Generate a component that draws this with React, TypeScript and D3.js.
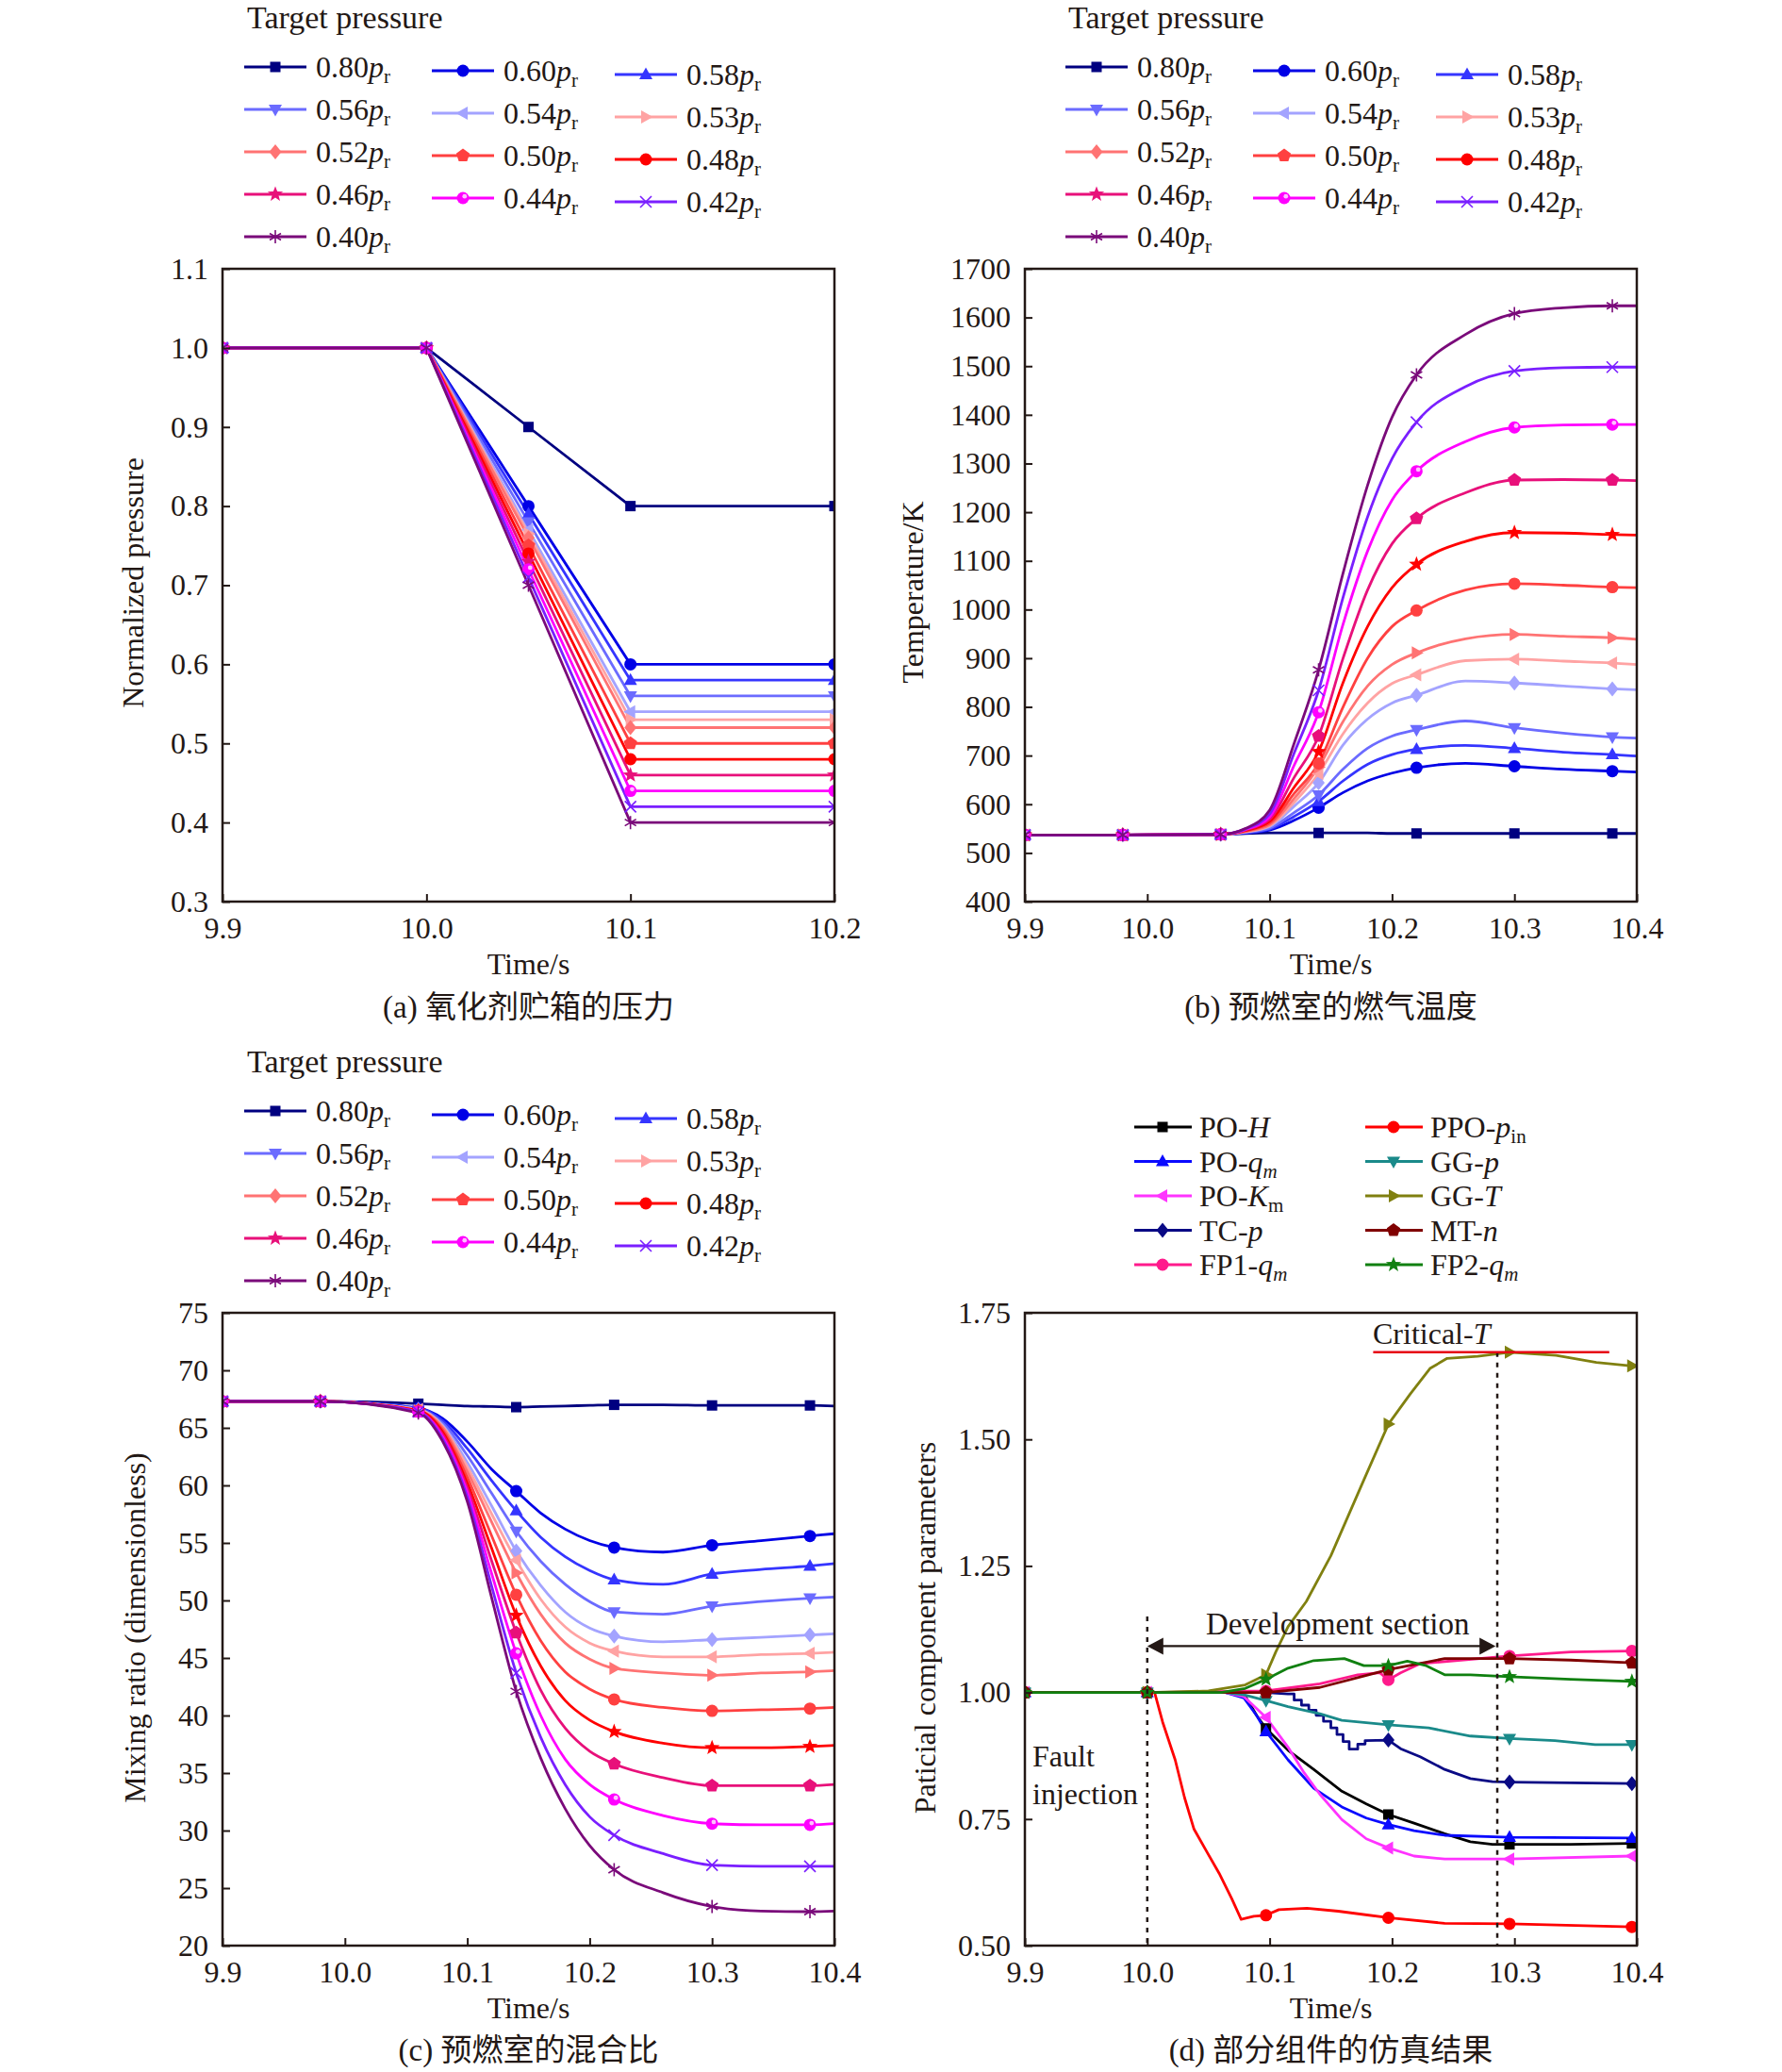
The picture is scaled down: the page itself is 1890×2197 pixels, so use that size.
import React, { useEffect, useRef } from "react";
import * as d3 from "d3";

const FONT = "'Liberation Serif', 'Times New Roman', 'Noto Sans CJK SC', serif";
const INK = "#231815";

// ---------- target pressure series (panels a, b, c)
const targetLabels = ["0.80", "0.60", "0.58", "0.56", "0.54", "0.53", "0.52", "0.50", "0.48", "0.46", "0.44", "0.42", "0.40"];
const targetColors = ["#000080", "#0000e6", "#3535ff", "#6b6bff", "#a3a3ff", "#ffa3a3", "#ff7373", "#ff4040", "#ff0000", "#e8107a", "#ff00ff", "#7a1fff", "#7a0a7a"];
const legendMarkers = ["square", "circle", "triUp", "triDown", "triLeft", "triRight", "diamond", "pentagon", "dot", "star", "sphere", "x", "asterisk"];
const curveMarkersBC = ["square", "circle", "triUp", "triDown", "diamond", "triLeft", "triRight", "dot", "star", "pentagon", "sphere", "x", "asterisk"];

// (a) normalized pressure of the oxidizer tank
const timeA = [9.9, 10.0, 10.05, 10.1, 10.2];
const pressureA = [
  [1, 1, 0.9, 0.8, 0.8],
  [1, 1, 0.8, 0.6, 0.6],
  [1, 1, 0.79, 0.58, 0.58],
  [1, 1, 0.78, 0.56, 0.56],
  [1, 1, 0.77, 0.54, 0.54],
  [1, 1, 0.765, 0.53, 0.53],
  [1, 1, 0.76, 0.52, 0.52],
  [1, 1, 0.75, 0.5, 0.5],
  [1, 1, 0.74, 0.48, 0.48],
  [1, 1, 0.73, 0.46, 0.46],
  [1, 1, 0.72, 0.44, 0.44],
  [1, 1, 0.71, 0.42, 0.42],
  [1, 1, 0.7, 0.4, 0.4],
];

// (b) and (c) share one time grid
const timeBC = [9.9, 9.98, 10.06, 10.08, 10.1, 10.12, 10.14, 10.16, 10.18, 10.2, 10.22, 10.26, 10.3, 10.34, 10.38, 10.4];
const markTimesBC = [9.9, 9.98, 10.06, 10.14, 10.22, 10.3, 10.38];

const temperatureB = [
  [537, 537, 538, 540, 541, 541, 541, 541, 541, 540, 540, 540, 540, 540, 540, 540],
  [537, 537, 538, 541, 547, 567, 593, 624, 648, 664, 675, 684, 678, 672, 668, 666],
  [537, 537, 538, 541, 549, 575, 606, 648, 682, 702, 713, 721, 715, 707, 702, 699],
  [537, 537, 538, 542, 551, 583, 619, 672, 715, 740, 753, 771, 757, 746, 738, 736],
  [537, 537, 538, 543, 554, 596, 644, 722, 775, 808, 824, 853, 849, 843, 837, 835],
  [537, 537, 538, 543, 556, 604, 663, 745, 808, 848, 866, 895, 898, 894, 890, 887],
  [537, 537, 538, 544, 558, 612, 676, 770, 843, 887, 911, 940, 949, 945, 942, 939],
  [537, 537, 538, 545, 561, 622, 684, 800, 900, 965, 998, 1040, 1053, 1050, 1046, 1045],
  [537, 537, 538, 546, 565, 635, 708, 850, 965, 1045, 1093, 1140, 1158, 1157, 1154, 1153],
  [537, 537, 538, 547, 569, 655, 740, 900, 1040, 1135, 1187, 1240, 1266, 1267, 1266, 1265],
  [537, 537, 538, 548, 574, 680, 789, 970, 1120, 1225, 1284, 1345, 1374, 1379, 1380, 1380],
  [537, 537, 538, 549, 580, 705, 834, 1025, 1190, 1310, 1385, 1458, 1490, 1497, 1498, 1498],
  [537, 537, 538, 550, 588, 725, 876, 1075, 1255, 1395, 1482, 1565, 1608, 1620, 1624, 1624],
];

const mixingC = [
  [67.3, 67.3, 67.1, 67.0, 66.9, 66.85, 66.8, 66.85, 66.9, 66.95, 67.0, 67.0, 66.95, 66.95, 66.95, 66.9],
  [67.3, 67.3, 66.7, 65.8, 63.8, 61.4, 59.5, 57.6, 56.2, 55.2, 54.6, 54.2, 54.8, 55.2, 55.6, 55.8],
  [67.3, 67.3, 66.7, 65.6, 63.2, 60.4, 57.8, 55.5, 53.8, 52.6, 51.8, 51.4, 52.3, 52.7, 53.0, 53.2],
  [67.3, 67.3, 66.6, 65.4, 62.6, 59.3, 56.0, 53.4, 51.4, 49.9, 49.0, 48.8, 49.5, 49.9, 50.2, 50.3],
  [67.3, 67.3, 66.6, 65.2, 62.0, 58.2, 54.3, 51.3, 49.0, 47.6, 46.9, 46.4, 46.6, 46.8, 47.0, 47.1],
  [67.3, 67.3, 66.6, 65.1, 61.6, 57.5, 53.5, 50.1, 47.7, 46.3, 45.6, 45.1, 45.1, 45.3, 45.4, 45.5],
  [67.3, 67.3, 66.5, 65.0, 61.2, 56.8, 52.4, 48.8, 46.3, 44.9, 44.1, 43.7, 43.5, 43.7, 43.8, 43.9],
  [67.3, 67.3, 66.5, 64.8, 60.7, 55.6, 50.5, 46.5, 43.8, 42.3, 41.4, 40.7, 40.4, 40.5, 40.6, 40.7],
  [67.3, 67.3, 66.5, 64.6, 60.2, 54.5, 48.7, 44.3, 41.3, 39.6, 38.6, 37.6, 37.2, 37.2, 37.3, 37.4],
  [67.3, 67.3, 66.4, 64.4, 59.8, 53.4, 47.2, 42.2, 38.9, 36.9, 35.8, 34.6, 33.9, 33.9, 33.9, 34.0],
  [67.3, 67.3, 66.4, 64.2, 59.4, 52.3, 45.4, 40.0, 36.2, 34.0, 32.7, 31.3, 30.6, 30.5, 30.5, 30.6],
  [67.3, 67.3, 66.4, 64.0, 59.0, 51.2, 43.7, 38.1, 34.0, 31.2, 29.6, 28.0, 27.0, 26.9, 26.9, 26.9],
  [67.3, 67.3, 66.3, 63.8, 58.6, 50.2, 42.1, 36.3, 31.9, 28.7, 26.6, 24.6, 23.4, 23.0, 22.95, 23.0],
];

// ---------- (d) component parameters
const markTimesD = [9.9, 10.0, 10.097, 10.197, 10.296, 10.396];

const poH = [[9.9, 1], [10.0, 1], [10.064, 1], [10.079, 0.997], [10.0895, 0.954], [10.097, 0.929], [10.115, 0.886], [10.136, 0.848], [10.159, 0.805], [10.179, 0.78], [10.197, 0.759], [10.218, 0.742], [10.243, 0.721], [10.264, 0.705], [10.282, 0.7], [10.296, 0.7], [10.346, 0.7], [10.396, 0.702], [10.4, 0.702]];
const poQm = [[9.9, 1], [10.0, 1], [10.064, 1], [10.079, 0.989], [10.0895, 0.954], [10.097, 0.923], [10.115, 0.867], [10.136, 0.811], [10.159, 0.774], [10.179, 0.752], [10.197, 0.739], [10.218, 0.727], [10.243, 0.718], [10.296, 0.714], [10.396, 0.7125], [10.4, 0.7125]];
const poKm = [[9.9, 1], [10.0, 1], [10.064, 1], [10.079, 0.992], [10.097, 0.951], [10.115, 0.892], [10.128, 0.842], [10.141, 0.799], [10.159, 0.749], [10.179, 0.711], [10.197, 0.693], [10.218, 0.677], [10.243, 0.671], [10.296, 0.671], [10.396, 0.677], [10.4, 0.677]];
const tcP = [[9.9, 1], [10.0, 1], [10.097, 1], [10.115, 0.997], [10.12, 0.997], [10.12, 0.985], [10.126, 0.985], [10.126, 0.975], [10.132, 0.975], [10.132, 0.965], [10.138, 0.965], [10.138, 0.955], [10.144, 0.955], [10.144, 0.943], [10.15, 0.943], [10.15, 0.93], [10.155, 0.93], [10.155, 0.917], [10.16, 0.917], [10.16, 0.903], [10.165, 0.903], [10.165, 0.888], [10.172, 0.888], [10.172, 0.898], [10.178, 0.898], [10.178, 0.905], [10.197, 0.906], [10.207, 0.889], [10.223, 0.873], [10.243, 0.848], [10.264, 0.83], [10.282, 0.824], [10.296, 0.823], [10.396, 0.82], [10.4, 0.82]];
const fp1Qm = [[9.9, 1], [10.0, 1], [10.097, 1.003], [10.141, 1.017], [10.172, 1.035], [10.19, 1.039], [10.197, 1.025], [10.207, 1.039], [10.223, 1.057], [10.296, 1.072], [10.346, 1.08], [10.396, 1.082], [10.4, 1.082]];
const ppoPin = [[9.9, 1], [10.0, 1], [10.006, 1.0], [10.0125, 0.942], [10.0228, 0.867], [10.0305, 0.792], [10.0382, 0.73], [10.0485, 0.686], [10.0587, 0.643], [10.069, 0.593], [10.0767, 0.552], [10.087, 0.558], [10.097, 0.56], [10.1075, 0.571], [10.1305, 0.574], [10.156, 0.568], [10.197, 0.555], [10.243, 0.544], [10.296, 0.543], [10.396, 0.537], [10.4, 0.537]];
const ggP = [[9.9, 1], [10.0, 1], [10.064, 1], [10.08, 0.995], [10.097, 0.984], [10.115, 0.972], [10.141, 0.958], [10.159, 0.945], [10.197, 0.936], [10.23, 0.93], [10.264, 0.914], [10.296, 0.909], [10.333, 0.905], [10.366, 0.897], [10.396, 0.897], [10.4, 0.897]];
const ggT = [[9.9, 1], [10.0, 1], [10.05, 1.003], [10.08, 1.015], [10.097, 1.035], [10.105, 1.08], [10.115, 1.13], [10.13, 1.18], [10.15, 1.27], [10.177, 1.42], [10.197, 1.53], [10.215, 1.59], [10.231, 1.64], [10.245, 1.66], [10.27, 1.664], [10.296, 1.672], [10.334, 1.666], [10.367, 1.652], [10.396, 1.645], [10.4, 1.645]];
const mtN = [[9.9, 1], [10.0, 1], [10.097, 1.0], [10.141, 1.01], [10.197, 1.045], [10.243, 1.067], [10.296, 1.067], [10.346, 1.064], [10.396, 1.0585], [10.4, 1.058]];
const fp2Qm = [[9.9, 1], [10.0, 1], [10.06, 1.0], [10.08, 1.008], [10.097, 1.026], [10.115, 1.048], [10.136, 1.063], [10.161, 1.067], [10.177, 1.053], [10.197, 1.053], [10.2125, 1.062], [10.228, 1.053], [10.243, 1.035], [10.264, 1.035], [10.296, 1.031], [10.346, 1.026], [10.396, 1.022], [10.4, 1.022]];

const seriesD = [poH, poQm, poKm, tcP, fp1Qm, ppoPin, ggP, ggT, mtN, fp2Qm];
const colorsD = ["#000000", "#0a0aff", "#ff33ff", "#0a0a85", "#ff1a8c", "#ff0000", "#1a8a8a", "#808010", "#800000", "#108010"];
const markersD = ["square", "triUp", "triLeft", "diamond", "dot", "dot", "triDown", "triRight", "pentagon", "star"];
// label parts: [text, italic, subscript]
const labelsD = [
  [["PO-", false, false], ["H", true, false]],
  [["PO-", false, false], ["q", true, false], ["m", true, true]],
  [["PO-", false, false], ["K", true, false], ["m", false, true]],
  [["TC-", false, false], ["p", true, false]],
  [["FP1-", false, false], ["q", true, false], ["m", true, true]],
  [["PPO-", false, false], ["p", true, false], ["in", false, true]],
  [["GG-", false, false], ["p", true, false]],
  [["GG-", false, false], ["T", true, false]],
  [["MT-", false, false], ["n", true, false]],
  [["FP2-", false, false], ["q", true, false], ["m", true, true]],
];

// annotation values for (d)
const faultTime = 10.0;
const faultLineTop = 1.15;
const criticalTime = 10.286;
const criticalT = 1.672;
const criticalSpan = [10.1846, 10.3775];
const devArrow = { from: 10.0, to: 10.2846, level: 1.0916 };

// axis ticks
const ticksX3 = [9.9, 10.0, 10.1, 10.2];
const ticksX5 = [9.9, 10.0, 10.1, 10.2, 10.3, 10.4];
const ticksYA = [0.3, 0.4, 0.5, 0.6, 0.7, 0.8, 0.9, 1.0, 1.1];
const ticksYB = [400, 500, 600, 700, 800, 900, 1000, 1100, 1200, 1300, 1400, 1500, 1600, 1700];
const ticksYC = [20, 25, 30, 35, 40, 45, 50, 55, 60, 65, 70, 75];
const ticksYD = [0.5, 0.75, 1.0, 1.25, 1.5, 1.75];

type Pt = [number, number];

function Marker({ kind, cx, cy, color }: { kind: string; cx: number; cy: number; color: string }) {
  const poly = (pts: Pt[]) => <polygon points={pts.map((p) => `${cx + p[0]},${cy + p[1]}`).join(" ")} fill={color} />;
  switch (kind) {
    case "square":
      return <rect x={cx - 5.5} y={cy - 5.5} width={11} height={11} fill={color} />;
    case "circle":
    case "dot":
      return <circle cx={cx} cy={cy} r={6.5} fill={color} />;
    case "sphere":
      return (
        <g>
          <circle cx={cx} cy={cy} r={6.5} fill={color} />
          <circle cx={cx + 1.8} cy={cy - 1.8} r={2.4} fill="#fff" opacity={0.75} />
        </g>
      );
    case "triUp":
      return poly([[0, -7.5], [7, 5], [-7, 5]]);
    case "triDown":
      return poly([[0, 7.5], [7, -5], [-7, -5]]);
    case "triLeft":
      return poly([[-7.5, 0], [5, -7], [5, 7]]);
    case "triRight":
      return poly([[7.5, 0], [-5, -7], [-5, 7]]);
    case "diamond":
      return poly([[0, -8], [6.5, 0], [0, 8], [-6.5, 0]]);
    case "pentagon":
      return poly(d3.range(5).map((i) => [7.5 * Math.sin((i * 2 * Math.PI) / 5), -7.5 * Math.cos((i * 2 * Math.PI) / 5)] as Pt));
    case "star":
      return poly(
        d3.range(10).map((i) => {
          const r = i % 2 === 0 ? 8.5 : 3.6;
          const a = (i * Math.PI) / 5;
          return [r * Math.sin(a), -r * Math.cos(a)] as Pt;
        })
      );
    case "x":
      return (
        <path d={`M${cx - 6},${cy - 6}L${cx + 6},${cy + 6}M${cx - 6},${cy + 6}L${cx + 6},${cy - 6}`} stroke={color} strokeWidth={1.6} fill="none" />
      );
    case "asterisk":
      return (
        <path
          d={`M${cx},${cy - 7}L${cx},${cy + 7}M${cx - 6},${cy - 3.5}L${cx + 6},${cy + 3.5}M${cx - 6},${cy + 3.5}L${cx + 6},${cy - 3.5}`}
          stroke={color}
          strokeWidth={1.6}
          fill="none"
        />
      );
    default:
      return null;
  }
}

function Axis({ scale, orient, ticks, fmt, transform }: any) {
  const ref = useRef<SVGGElement>(null);
  useEffect(() => {
    if (!ref.current) return;
    const axis = (orient === "bottom" ? d3.axisBottom(scale) : d3.axisLeft(scale))
      .tickValues(ticks)
      .tickFormat(d3.format(fmt))
      .tickSizeInner(-8)
      .tickSizeOuter(0)
      .tickPadding(orient === "bottom" ? 16 : 15);
    const g = d3.select(ref.current);
    g.selectAll("*").remove();
    g.call(axis as any);
    g.select(".domain").remove();
    g.attr("font-family", FONT).attr("font-size", 32);
    g.selectAll("line").attr("stroke", INK).attr("stroke-width", 2);
    g.selectAll("text").attr("fill", INK);
  }, [scale, orient, ticks, fmt]);
  return <g ref={ref} transform={transform} />;
}

interface Series {
  color: string;
  marker: string;
  pts: Pt[];
  marks: Pt[];
}

interface PanelProps {
  id: string;
  box: { left: number; top: number; right: number; bottom: number };
  xDomain: [number, number];
  yDomain: [number, number];
  xTicks: number[];
  yTicks: number[];
  yFmt: string;
  series: Series[];
  curve: d3.CurveFactory;
  yLabel: string;
  yLabelPos: [number, number];
  timeY: number;
  caption: string;
  captionY: number;
  extra?: (x: d3.ScaleLinear<number, number>, y: d3.ScaleLinear<number, number>) => React.ReactNode;
}

function Panel(p: PanelProps) {
  const { box } = p;
  const x = d3.scaleLinear().domain(p.xDomain).range([box.left, box.right]);
  const y = d3.scaleLinear().domain(p.yDomain).range([box.bottom, box.top]);
  const line = d3
    .line<Pt>()
    .x((d) => x(d[0]))
    .y((d) => y(d[1]))
    .curve(p.curve);
  const cx = (box.left + box.right) / 2;
  return (
    <g>
      <defs>
        <clipPath id={`clip-${p.id}`}>
          <rect x={box.left} y={box.top} width={box.right - box.left} height={box.bottom - box.top} />
        </clipPath>
      </defs>
      <g clipPath={`url(#clip-${p.id})`}>
        {p.series.map((s, i) => (
          <path key={`l${i}`} d={line(s.pts) || ""} fill="none" stroke={s.color} strokeWidth={2.8} strokeLinejoin="round" />
        ))}
        {p.series.map((s, i) => (
          <g key={`m${i}`}>
            {s.marks.map((m, j) => (
              <Marker key={j} kind={s.marker} cx={x(m[0])} cy={y(m[1])} color={s.color} />
            ))}
          </g>
        ))}
        {p.extra && p.extra(x, y)}
      </g>
      <Axis scale={x} orient="bottom" ticks={p.xTicks} fmt=".1f" transform={`translate(0,${box.bottom})`} />
      <Axis scale={y} orient="left" ticks={p.yTicks} fmt={p.yFmt} transform={`translate(${box.left},0)`} />
      <rect x={box.left} y={box.top} width={box.right - box.left} height={box.bottom - box.top} fill="none" stroke={INK} strokeWidth={2.5} />
      <text
        transform={`translate(${p.yLabelPos[0]},${p.yLabelPos[1]}) rotate(-90)`}
        textAnchor="middle"
        dy="0.35em"
        fontSize={32}
        fill={INK}
      >
        {p.yLabel}
      </text>
      <text x={cx} y={p.timeY} textAnchor="middle" fontSize={32} fill={INK}>
        Time/s
      </text>
      <text x={cx} y={p.captionY} textAnchor="middle" fontSize={33} fill={INK}>
        {p.caption}
      </text>
    </g>
  );
}

function TargetLegend({ x0, y0 }: { x0: number; y0: number }) {
  const colX = [x0 - 3, x0 + 196, x0 + 390];
  return (
    <g>
      <text x={x0} y={y0} fontSize={34} fill={INK}>
        Target pressure
      </text>
      {targetLabels.map((lab, i) => {
        const row = Math.floor(i / 3);
        const col = i % 3;
        const lx = colX[col];
        const ly = y0 + 41 + row * 45 + col * 4;
        return (
          <g key={lab}>
            <line x1={lx} x2={lx + 66} y1={ly} y2={ly} stroke={targetColors[i]} strokeWidth={2.8} />
            <Marker kind={legendMarkers[i]} cx={lx + 33} cy={ly} color={targetColors[i]} />
            <text x={lx + 76} y={ly + 11} fontSize={32} fill={INK}>
              {lab}
              <tspan fontStyle="italic">p</tspan>
              <tspan fontSize={21} dy={6}>
                r
              </tspan>
            </text>
          </g>
        );
      })}
    </g>
  );
}

function ComponentLegend() {
  const colX = [1203, 1448];
  return (
    <g>
      {labelsD.map((parts, i) => {
        const col = Math.floor(i / 5);
        const row = i % 5;
        const lx = colX[col];
        const ly = 1195 + row * 36.5;
        let sub = false;
        return (
          <g key={i}>
            <line x1={lx} x2={lx + 61} y1={ly} y2={ly} stroke={colorsD[i]} strokeWidth={2.8} />
            <Marker kind={markersD[i]} cx={lx + 30} cy={ly} color={colorsD[i]} />
            <text x={lx + 69} y={ly + 11} fontSize={32} fill={INK}>
              {parts.map((pt: any, k: number) => {
                const el = (
                  <tspan key={k} fontStyle={pt[1] ? "italic" : "normal"} fontSize={pt[2] ? 21 : 32} dy={pt[2] && !sub ? 6 : 0}>
                    {pt[0]}
                  </tspan>
                );
                if (pt[2]) sub = true;
                return el;
              })}
            </text>
          </g>
        );
      })}
    </g>
  );
}

const near = (a: number, b: number) => Math.abs(a - b) < 1e-9;

function gridSeries(times: number[], rows: number[][], markTimes: number[], markers: string[]): Series[] {
  return rows.map((vals, i) => {
    const pts = times.map((t, k) => [t, vals[k]] as Pt);
    return {
      color: targetColors[i],
      marker: markers[i],
      pts,
      marks: pts.filter((pt) => markTimes.some((m) => near(m, pt[0]))),
    };
  });
}

export default function App() {
  const boxA = { left: 236, top: 285, right: 885, bottom: 956 };
  const boxB = { left: 1087, top: 285, right: 1736, bottom: 956 };
  const boxC = { left: 236, top: 1392, right: 885, bottom: 2063 };
  const boxD = { left: 1087, top: 1392, right: 1736, bottom: 2063 };

  const seriesA = gridSeries(timeA, pressureA, timeA, legendMarkers);
  const seriesB = gridSeries(timeBC, temperatureB, markTimesBC, curveMarkersBC);
  const seriesC = gridSeries(timeBC, mixingC, markTimesBC, curveMarkersBC);
  const seriesDd: Series[] = seriesD.map((pts, i) => ({
    color: colorsD[i],
    marker: markersD[i],
    pts: pts as Pt[],
    marks: (pts as Pt[]).filter((pt) => markTimesD.some((m) => near(m, pt[0]))),
  }));

  const extraD = (x: d3.ScaleLinear<number, number>, y: d3.ScaleLinear<number, number>) => {
    const ay = y(devArrow.level);
    const x1 = x(devArrow.from);
    const x2 = x(devArrow.to);
    return (
      <g>
        <line x1={x(faultTime)} x2={x(faultTime)} y1={y(faultLineTop)} y2={y(0.5)} stroke={INK} strokeWidth={2.5} strokeDasharray="5,6" />
        <line x1={x(criticalTime)} x2={x(criticalTime)} y1={y(criticalT)} y2={y(0.5)} stroke={INK} strokeWidth={2.5} strokeDasharray="5,6" />
        <line x1={x(criticalSpan[0])} x2={x(criticalSpan[1])} y1={y(criticalT)} y2={y(criticalT)} stroke="#e60012" strokeWidth={2.5} />
        <line x1={x1 + 10} x2={x2 - 10} y1={ay} y2={ay} stroke={INK} strokeWidth={2.2} />
        <polygon points={`${x1},${ay} ${x1 + 17},${ay - 9} ${x1 + 17},${ay + 9}`} fill={INK} />
        <polygon points={`${x2},${ay} ${x2 - 17},${ay - 9} ${x2 - 17},${ay + 9}`} fill={INK} />
        <text x={1279} y={1733} fontSize={33} fill={INK}>
          Development section
        </text>
        <text x={1095} y={1873} fontSize={32} fill={INK}>
          Fault
        </text>
        <text x={1095} y={1913} fontSize={32} fill={INK}>
          injection
        </text>
        <text x={1456} y={1425} fontSize={32} fill={INK}>
          Critical-<tspan fontStyle="italic">T</tspan>
        </text>
      </g>
    );
  };

  return (
    <div style={{ position: "absolute", left: 0, top: 0 }}>
      <svg width={1890} height={2197} viewBox="0 0 1890 2197" fontFamily={FONT} style={{ display: "block", background: "#fff" }}>
        <rect x={0} y={0} width={1890} height={2197} fill="#fff" />
        <TargetLegend x0={262} y0={30} />
        <TargetLegend x0={1133} y0={30} />
        <TargetLegend x0={262} y0={1137} />
        <ComponentLegend />
        <Panel
          id="a"
          box={boxA}
          xDomain={[9.9, 10.2]}
          yDomain={[0.3, 1.1]}
          xTicks={ticksX3}
          yTicks={ticksYA}
          yFmt=".1f"
          series={seriesA}
          curve={d3.curveLinear}
          yLabel="Normalized pressure"
          yLabelPos={[141, 618]}
          timeY={1033}
          caption="(a) 氧化剂贮箱的压力"
          captionY={1079}
        />
        <Panel
          id="b"
          box={boxB}
          xDomain={[9.9, 10.4]}
          yDomain={[400, 1700]}
          xTicks={ticksX5}
          yTicks={ticksYB}
          yFmt="d"
          series={seriesB}
          curve={d3.curveMonotoneX}
          yLabel="Temperature/K"
          yLabelPos={[968, 628]}
          timeY={1033}
          caption="(b) 预燃室的燃气温度"
          captionY={1079}
        />
        <Panel
          id="c"
          box={boxC}
          xDomain={[9.9, 10.4]}
          yDomain={[20, 75]}
          xTicks={ticksX5}
          yTicks={ticksYC}
          yFmt="d"
          series={seriesC}
          curve={d3.curveMonotoneX}
          yLabel="Mixing ratio (dimensionless)"
          yLabelPos={[143, 1726]}
          timeY={2140}
          caption="(c) 预燃室的混合比"
          captionY={2185}
        />
        <Panel
          id="d"
          box={boxD}
          xDomain={[9.9, 10.4]}
          yDomain={[0.5, 1.75]}
          xTicks={ticksX5}
          yTicks={ticksYD}
          yFmt=".2f"
          series={seriesDd}
          curve={d3.curveLinear}
          yLabel="Paticial component parameters"
          yLabelPos={[981, 1726]}
          timeY={2140}
          caption="(d) 部分组件的仿真结果"
          captionY={2185}
          extra={extraD}
        />
      </svg>
    </div>
  );
}
